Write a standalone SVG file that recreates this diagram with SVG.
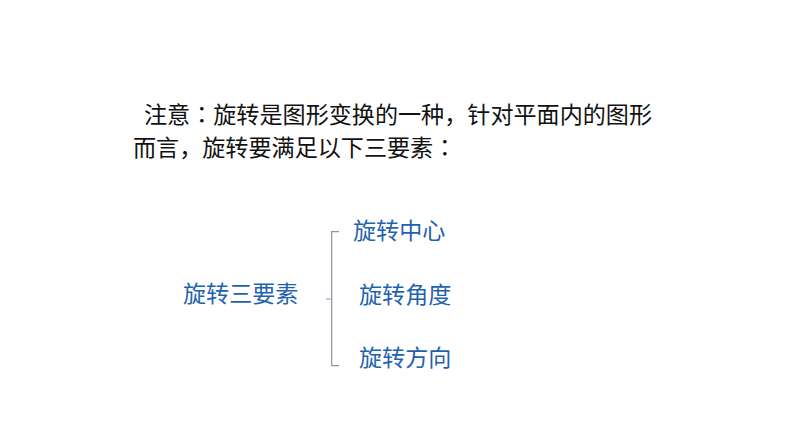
<svg xmlns="http://www.w3.org/2000/svg" width="794" height="447" viewBox="0 0 794 447">
<style>
.t{font-family:"Noto Sans CJK SC","Noto Sans",sans-serif;font-size:23.1px;}
.p{font-family:"Noto Sans CJK TC","Noto Sans CJK SC",sans-serif;}
.k{fill:#111111;}
.b{fill:#1F62AD;}
.br{fill:none;stroke:#8A98A6;stroke-width:1.2;}
</style>
<rect width="794" height="447" fill="#ffffff"/>
<g id="note">
<text class="t k" x="144" y="122.5">注意<tspan class="p">：</tspan>旋转是图形变换的一种，针对平面内的图形</text>
<text class="t k" x="133" y="155.5">而言，旋转要满足以下三要素<tspan class="p">：</tspan></text>
</g>
<g id="root"><text class="t b" x="183" y="301.5">旋转三要素</text></g>
<g id="center"><text class="t b" x="353" y="238.5">旋转中心</text></g>
<g id="angle"><text class="t b" x="359" y="302.5">旋转角度</text></g>
<g id="direction"><text class="t b" x="359" y="365.5">旋转方向</text></g>
<g id="connectors">
<path class="br" d="M339 231.7 H331.7 V365.7 H339 M331.7 299 H326"/>
</g>
</svg>
